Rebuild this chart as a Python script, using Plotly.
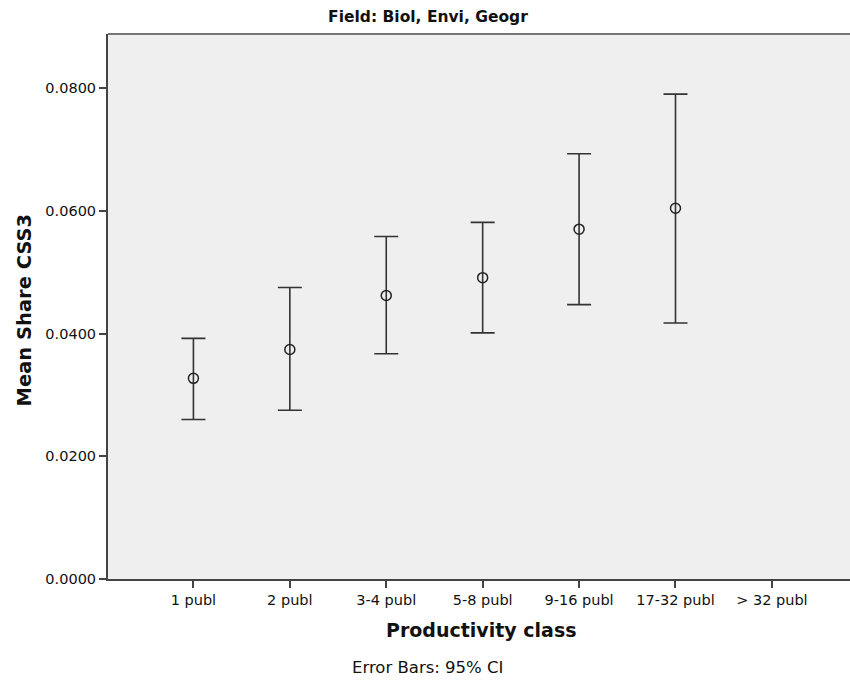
import plotly.graph_objects as go

# productivity classes and mean share with 95% CI bounds
classes = ["1 publ", "2 publ", "3-4 publ", "5-8 publ", "9-16 publ", "17-32 publ", "> 32 publ"]
means = [0.0327, 0.0374, 0.0462, 0.0491, 0.0570, 0.0604, None]
ci_low = [0.0260, 0.0275, 0.0367, 0.0401, 0.0447, 0.0417, None]
ci_high = [0.0392, 0.0475, 0.0558, 0.0581, 0.0693, 0.0790, None]
y_ticks = [0.0, 0.02, 0.04, 0.06, 0.08]

err_plus = [None if m is None else h - m for m, h in zip(means, ci_high)]
err_minus = [None if m is None else m - l for m, l in zip(means, ci_low)]

font = "DejaVu Sans"

fig = go.Figure()
fig.add_trace(go.Scatter(
    x=classes, y=means, mode="markers",
    marker=dict(symbol="circle-open", size=10, color="#222", line=dict(width=1.5)),
    error_y=dict(type="data", symmetric=False, array=err_plus, arrayminus=err_minus,
                 color="#333", thickness=1.6, width=12),
    showlegend=False, hoverinfo="skip"))

fig.update_xaxes(
    type="category", range=[-0.886, 6.81], showgrid=False, zeroline=False,
    showline=True, linecolor="#444", linewidth=2, ticks="outside", ticklen=7,
    tickcolor="#444", tickwidth=1.5, tickfont=dict(family=font, size=14.5, color="#111"))
fig.update_yaxes(
    range=[0, 0.0888], tickvals=y_ticks, tickformat=".4f", showgrid=False, zeroline=False,
    showline=True, linecolor="#444", linewidth=2, ticks="outside", ticklen=7,
    tickcolor="#444", tickwidth=1.5, tickfont=dict(family=font, size=14.5, color="#111"))

fig.add_shape(type="line", xref="paper", yref="paper", x0=0, x1=1, y0=1, y1=1,
              line=dict(color="#777", width=2))

fig.add_annotation(text="<b>Productivity class</b>", xref="paper", yref="paper",
                   x=0.504, y=-0.094, showarrow=False, yanchor="middle",
                   font=dict(family=font, size=19, color="#111"))
fig.add_annotation(text="<b>Mean Share CSS3</b>", xref="paper", yref="paper",
                   x=-0.113, y=0.493, showarrow=False, textangle=-90, xanchor="center",
                   font=dict(family=font, size=19.5, color="#111"))
fig.add_annotation(text="Error Bars: 95% CI", xref="paper", yref="paper",
                   x=0.43, y=-0.163, showarrow=False, yanchor="middle",
                   font=dict(family=font, size=16.5, color="#111"))

fig.update_layout(
    width=850, height=681, margin=dict(l=108, r=0, t=34, b=102),
    paper_bgcolor="white", plot_bgcolor="#efefef",
    title=dict(text="<b>Field: Biol, Envi, Geogr</b>", x=0.5035, xanchor="center",
               y=0.975, yanchor="middle", font=dict(family=font, size=15.5, color="#111")))

# drop the default page margin so the figure sits at the window's corner
fig.write_html("out.html", config={"displayModeBar": False},
               post_script="document.body.style.margin='0';")
